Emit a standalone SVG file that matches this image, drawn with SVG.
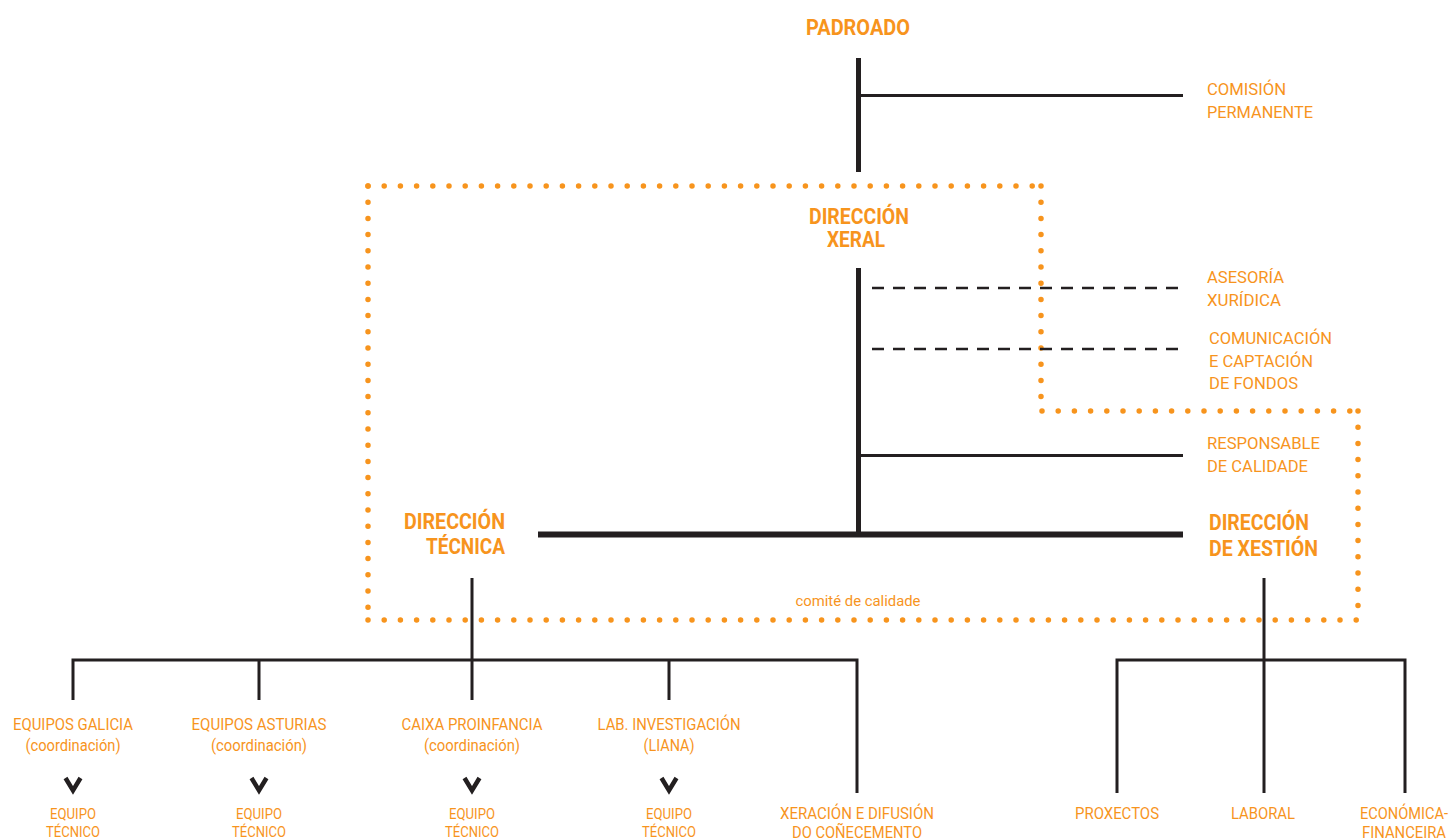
<svg xmlns="http://www.w3.org/2000/svg" width="1452" height="840" viewBox="0 0 1452 840">
<style>
text{font-family:Roboto,"Liberation Sans",sans-serif;fill:#F7941D}
.h{font-weight:bold;font-size:22px}
.l{font-size:17px}
.s{font-size:14px}
.m{font-size:16px}
.c{text-anchor:middle}
.e{text-anchor:end}
.ln{stroke:#231F20;fill:none}
.dot{stroke:#F7941D;stroke-width:5.5;stroke-linecap:round;stroke-dasharray:0 16.2;fill:none}
</style>
<rect width="1452" height="840" fill="#fff"/>
<g id="connectors">
<g id="quality-box">
<path class="dot" d="M368 186H1041"/>
<path class="dot" d="M1041 186V411"/>
<path class="dot" d="M1042 411H1358"/>
<path class="dot" d="M1358 411V620"/>
<path class="dot" d="M368 620H1358"/>
<path class="dot" d="M368 186V620"/>
</g>
<line class="ln" x1="858.5" y1="58" x2="858.5" y2="172" stroke-width="5"/>
<line class="ln" x1="858" y1="95.5" x2="1183" y2="95.5" stroke-width="3"/>
<line class="ln" x1="858.5" y1="268" x2="858.5" y2="534" stroke-width="5"/>
<line class="ln" x1="872" y1="288" x2="1183" y2="288" stroke-width="2.5" stroke-dasharray="12 9"/>
<line class="ln" x1="872" y1="349" x2="1183" y2="349" stroke-width="2.5" stroke-dasharray="12 9"/>
<line class="ln" x1="858" y1="455.5" x2="1183" y2="455.5" stroke-width="3"/>
<line class="ln" x1="538" y1="534.5" x2="1183" y2="534.5" stroke-width="6"/>
<path class="ln" stroke-width="3" d="M472 578V700M73 700V660H857V793M259 660V700M669 660V700"/>
<path class="ln" stroke-width="3" d="M1264 578V793M1117 793V660H1405V793"/>
<g class="ln" stroke-width="4.5">
<polyline points="65.5,778 73,790.5 80.5,778"/>
<polyline points="251.5,778 259,790.5 266.5,778"/>
<polyline points="464.5,778 472,790.5 479.5,778"/>
<polyline points="661.5,778 669,790.5 676.5,778"/>
</g>
</g>
<g id="padroado"><text class="h c" x="858" y="35" textLength="104" lengthAdjust="spacingAndGlyphs">PADROADO</text></g>
<g id="comision">
<text class="l" x="1207" y="95" textLength="79" lengthAdjust="spacingAndGlyphs">COMISIÓN</text>
<text class="l" x="1207" y="118" textLength="106" lengthAdjust="spacingAndGlyphs">PERMANENTE</text>
</g>
<g id="direccion-xeral">
<text class="h c" x="859" y="224" textLength="100" lengthAdjust="spacingAndGlyphs">DIRECCIÓN</text>
<text class="h c" x="856" y="247" textLength="58" lengthAdjust="spacingAndGlyphs">XERAL</text>
</g>
<g id="asesoria">
<text class="l" x="1207" y="283" textLength="77" lengthAdjust="spacingAndGlyphs">ASESORÍA</text>
<text class="l" x="1207" y="306" textLength="74" lengthAdjust="spacingAndGlyphs">XURÍDICA</text>
</g>
<g id="comunicacion">
<text class="l" x="1209" y="344" textLength="123" lengthAdjust="spacingAndGlyphs">COMUNICACIÓN</text>
<text class="l" x="1209" y="367" textLength="104" lengthAdjust="spacingAndGlyphs">E CAPTACIÓN</text>
<text class="l" x="1209" y="389" textLength="89" lengthAdjust="spacingAndGlyphs">DE FONDOS</text>
</g>
<g id="responsable">
<text class="l" x="1207" y="449" textLength="113" lengthAdjust="spacingAndGlyphs">RESPONSABLE</text>
<text class="l" x="1207" y="472" textLength="101" lengthAdjust="spacingAndGlyphs">DE CALIDADE</text>
</g>
<g id="direccion-tecnica">
<text class="h e" x="505" y="529" textLength="101" lengthAdjust="spacingAndGlyphs">DIRECCIÓN</text>
<text class="h e" x="505" y="554" textLength="79" lengthAdjust="spacingAndGlyphs">TÉCNICA</text>
</g>
<g id="direccion-xestion">
<text class="h" x="1209" y="530" textLength="100" lengthAdjust="spacingAndGlyphs">DIRECCIÓN</text>
<text class="h" x="1209" y="556" textLength="109" lengthAdjust="spacingAndGlyphs">DE XESTIÓN</text>
</g>
<g id="comite"><text class="s c" x="858" y="606" textLength="125" lengthAdjust="spacingAndGlyphs">comité de calidade</text></g>
<g id="galicia">
<text class="m c" x="73" y="730" textLength="120" lengthAdjust="spacingAndGlyphs">EQUIPOS GALICIA</text>
<text class="m c" x="73" y="751" textLength="95" lengthAdjust="spacingAndGlyphs">(coordinación)</text>
</g>
<g id="asturias">
<text class="m c" x="259" y="730" textLength="135" lengthAdjust="spacingAndGlyphs">EQUIPOS ASTURIAS</text>
<text class="m c" x="259" y="751" textLength="96" lengthAdjust="spacingAndGlyphs">(coordinación)</text>
</g>
<g id="caixa">
<text class="m c" x="472" y="730" textLength="141" lengthAdjust="spacingAndGlyphs">CAIXA PROINFANCIA</text>
<text class="m c" x="472" y="751" textLength="96" lengthAdjust="spacingAndGlyphs">(coordinación)</text>
</g>
<g id="lab">
<text class="m c" x="669" y="730" textLength="143" lengthAdjust="spacingAndGlyphs">LAB. INVESTIGACIÓN</text>
<text class="m c" x="669" y="751" textLength="51" lengthAdjust="spacingAndGlyphs">(LIANA)</text>
</g>
<g id="equipo-galicia">
<text class="s c" x="73" y="819" textLength="46" lengthAdjust="spacingAndGlyphs">EQUIPO</text>
<text class="s c" x="73" y="837" textLength="54" lengthAdjust="spacingAndGlyphs">TÉCNICO</text>
</g>
<g id="equipo-asturias">
<text class="s c" x="259" y="819" textLength="46" lengthAdjust="spacingAndGlyphs">EQUIPO</text>
<text class="s c" x="259" y="837" textLength="54" lengthAdjust="spacingAndGlyphs">TÉCNICO</text>
</g>
<g id="equipo-caixa">
<text class="s c" x="472" y="819" textLength="46" lengthAdjust="spacingAndGlyphs">EQUIPO</text>
<text class="s c" x="472" y="837" textLength="54" lengthAdjust="spacingAndGlyphs">TÉCNICO</text>
</g>
<g id="equipo-lab">
<text class="s c" x="669" y="819" textLength="46" lengthAdjust="spacingAndGlyphs">EQUIPO</text>
<text class="s c" x="669" y="837" textLength="54" lengthAdjust="spacingAndGlyphs">TÉCNICO</text>
</g>
<g id="xeracion">
<text class="m c" x="857" y="819" textLength="154" lengthAdjust="spacingAndGlyphs">XERACIÓN E DIFUSIÓN</text>
<text class="m c" x="857" y="838" textLength="130" lengthAdjust="spacingAndGlyphs">DO COÑECEMENTO</text>
</g>
<g id="proxectos"><text class="m c" x="1117" y="819" textLength="84" lengthAdjust="spacingAndGlyphs">PROXECTOS</text></g>
<g id="laboral"><text class="m c" x="1263" y="819" textLength="64" lengthAdjust="spacingAndGlyphs">LABORAL</text></g>
<g id="economica">
<text class="m c" x="1404" y="819" textLength="88" lengthAdjust="spacingAndGlyphs">ECONÓMICA-</text>
<text class="m c" x="1404" y="838" textLength="84" lengthAdjust="spacingAndGlyphs">FINANCEIRA</text>
</g>
</svg>
